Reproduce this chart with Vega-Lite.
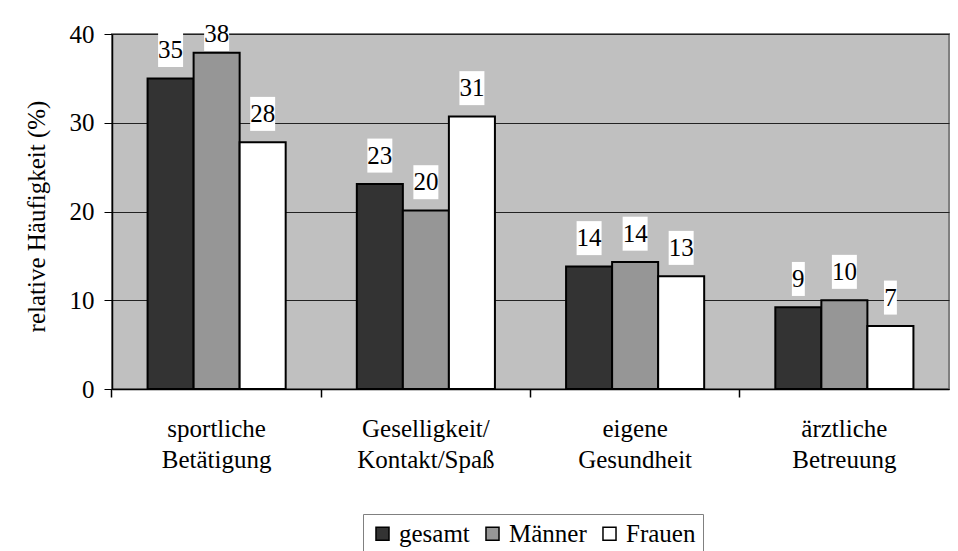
{
  "$schema": "https://vega.github.io/schema/vega-lite/v6.json",
  "width": 837,
  "height": 355,
  "autosize": {"type": "none"},
  "padding": {"left": 112, "top": 34, "right": 9, "bottom": 162},
  "background": "white",
  "config": {
    "font": "Times New Roman, Liberation Serif, serif",
    "view": {"fill": "#C0C0C0", "stroke": "#808080", "strokeWidth": 2},
    "axis": {"labelColor": "black", "titleColor": "black", "labelFont": "Times New Roman, Liberation Serif, serif", "titleFont": "Times New Roman, Liberation Serif, serif"},
    "legend": {"labelFont": "Times New Roman, Liberation Serif, serif"}
  },
  "data": {
    "values": [
      {"cat": "sportliche Betätigung", "group": "gesamt", "value": 35.0},
      {"cat": "sportliche Betätigung", "group": "Männer", "value": 37.9},
      {"cat": "sportliche Betätigung", "group": "Frauen", "value": 27.8},
      {"cat": "Geselligkeit/ Kontakt/Spaß", "group": "gesamt", "value": 23.1},
      {"cat": "Geselligkeit/ Kontakt/Spaß", "group": "Männer", "value": 20.1},
      {"cat": "Geselligkeit/ Kontakt/Spaß", "group": "Frauen", "value": 30.7},
      {"cat": "eigene Gesundheit", "group": "gesamt", "value": 13.8},
      {"cat": "eigene Gesundheit", "group": "Männer", "value": 14.3},
      {"cat": "eigene Gesundheit", "group": "Frauen", "value": 12.7},
      {"cat": "ärztliche Betreuung", "group": "gesamt", "value": 9.2},
      {"cat": "ärztliche Betreuung", "group": "Männer", "value": 10.0},
      {"cat": "ärztliche Betreuung", "group": "Frauen", "value": 7.1}
    ]
  },
  "transform": [
    {"calculate": "min(datum.value + 3.2, 40)", "as": "labelY"},
    {"calculate": "format(datum.value, '.0f')", "as": "label"},
    {"calculate": "datum.value < 9.5 ? 'M-0.38,-1L0.38,-1L0.38,1L-0.38,1Z' : 'M-0.735,-1L0.735,-1L0.735,1L-0.735,1Z'", "as": "bgShape"}
  ],
  "encoding": {
    "x": {
      "field": "cat",
      "type": "nominal",
      "sort": ["sportliche Betätigung", "Geselligkeit/ Kontakt/Spaß", "eigene Gesundheit", "ärztliche Betreuung"],
      "scale": {"paddingInner": 0.34, "paddingOuter": 0.17}
    },
    "xOffset": {
      "field": "group",
      "type": "nominal",
      "sort": ["gesamt", "Männer", "Frauen"],
      "scale": {"paddingInner": 0, "paddingOuter": 0}
    }
  },
  "resolve": {"axis": {"x": "independent"}},
  "layer": [
    {
      "mark": {"type": "bar", "stroke": "black", "strokeWidth": 2},
      "encoding": {
        "x": {
          "field": "cat",
          "type": "nominal",
          "sort": ["sportliche Betätigung", "Geselligkeit/ Kontakt/Spaß", "eigene Gesundheit", "ärztliche Betreuung"],
          "axis": {
            "orient": "bottom",
            "title": null,
            "labelAngle": 0,
            "ticks": false,
            "domainColor": "black",
            "domainWidth": 1.5,
            "labelFontSize": 25,
            "labelLineHeight": 31,
            "labelPadding": 27,
            "labelExpr": "split(datum.label, ' ')"
          }
        },
        "y": {
          "field": "value",
          "type": "quantitative",
          "scale": {"domain": [0, 40], "nice": false},
          "axis": {
            "values": [0, 10, 20, 30, 40],
            "title": "relative Häufigkeit (%)",
            "titleFontSize": 25,
            "titleFontWeight": "normal",
            "titlePadding": 20,
            "titleY": 182,
            "labelFontSize": 25,
            "labelPadding": 10,
            "tickSize": 8,
            "tickColor": "black",
            "domainColor": "black",
            "domainWidth": 1.5,
            "grid": true,
            "gridColor": "#222222",
            "gridWidth": 1
          }
        },
        "color": {
          "field": "group",
          "type": "nominal",
          "sort": ["gesamt", "Männer", "Frauen"],
          "scale": {"domain": ["gesamt", "Männer", "Frauen"], "range": ["#333333", "#969696", "#FFFFFF"]},
          "legend": {
            "title": null,
            "orient": "none",
            "legendX": 251,
            "legendY": 480,
            "direction": "horizontal",
            "symbolType": "square",
            "symbolSize": 170,
            "symbolStrokeColor": "black",
            "symbolStrokeWidth": 1.5,
            "symbolOpacity": 1,
            "labelFontSize": 25,
            "labelColor": "black",
            "labelOffset": 4,
            "columnPadding": 10,
            "strokeColor": "#808080",
            "padding": 7
          }
        }
      }
    },
    {
      "mark": {"type": "point", "filled": true, "fill": "white", "opacity": 1, "strokeWidth": 0, "size": 1156},
      "encoding": {
        "x": {
          "field": "cat",
          "type": "nominal",
          "sort": ["sportliche Betätigung", "Geselligkeit/ Kontakt/Spaß", "eigene Gesundheit", "ärztliche Betreuung"],
          "axis": {
            "orient": "bottom",
            "title": null,
            "labels": false,
            "domain": false,
            "ticks": true,
            "tickSize": 8,
            "tickColor": "black",
            "tickWidth": 1.5,
            "bandPosition": -0.2576
          }
        },
        "y": {"field": "labelY", "type": "quantitative"},
        "shape": {"field": "bgShape", "type": "nominal", "scale": null, "legend": null}
      }
    },
    {
      "mark": {"type": "text", "fontSize": 25, "color": "black", "baseline": "middle", "font": "Times New Roman, Liberation Serif, serif"},
      "encoding": {
        "x": {
          "field": "cat",
          "type": "nominal",
          "sort": ["sportliche Betätigung", "Geselligkeit/ Kontakt/Spaß", "eigene Gesundheit", "ärztliche Betreuung"],
          "axis": null
        },
        "y": {"field": "labelY", "type": "quantitative"},
        "text": {"field": "label"}
      }
    }
  ]
}
